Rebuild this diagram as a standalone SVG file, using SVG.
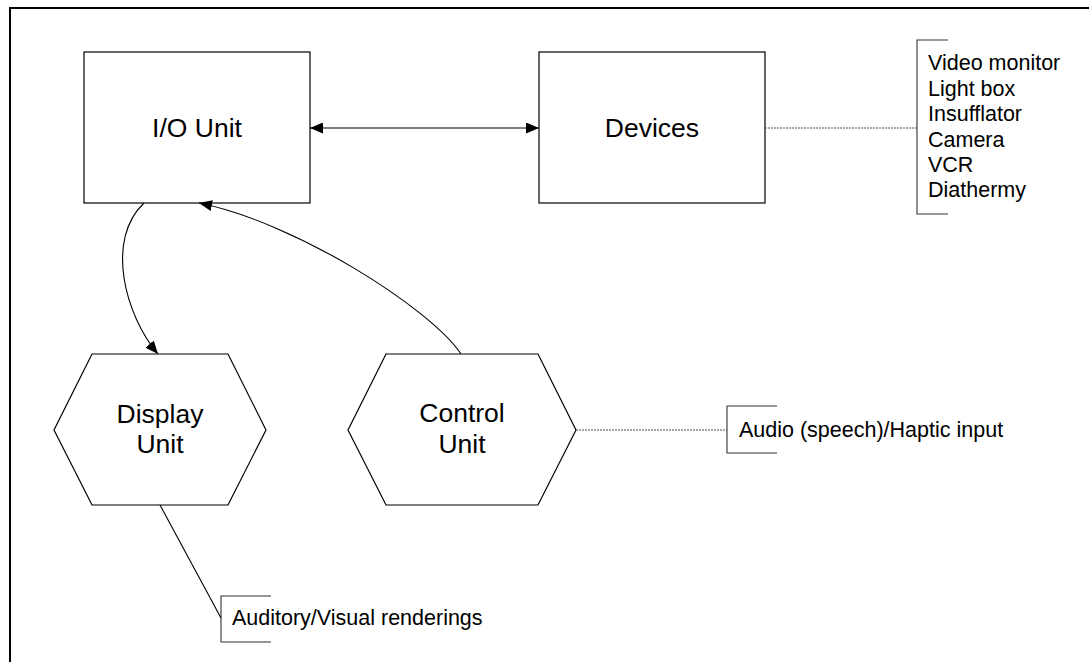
<svg xmlns="http://www.w3.org/2000/svg" width="1089" height="662" viewBox="0 0 1089 662">
<style>
.box{fill:#fff;stroke:#000;stroke-width:1.2}
.lbl{font-family:"Liberation Sans",Arial,sans-serif;font-size:26.5px;fill:#000;text-anchor:middle}
.sm{font-family:"Liberation Sans",Arial,sans-serif;font-size:21.5px;fill:#000}
.conn{fill:none;stroke:#000;stroke-width:1.1}
.dash{fill:none;stroke:#555;stroke-width:1;stroke-dasharray:2 1}
.brk{fill:none;stroke:#333;stroke-width:1.1}
</style>
<defs>
<marker id="ah" viewBox="0 0 13 11" refX="13" refY="5.5" markerWidth="13" markerHeight="11" markerUnits="userSpaceOnUse" orient="auto-start-reverse">
<path d="M0,0 L13,5.5 L0,11 Z" fill="#000"/>
</marker>
</defs>
<rect x="10" y="8" width="1100" height="700" fill="#fff" stroke="#000" stroke-width="2"/>
<g id="io-unit">
<rect class="box" x="84" y="52" width="226" height="151"/>
<text class="lbl" x="197" y="137">I/O Unit</text>
</g>
<g id="devices">
<rect class="box" x="539" y="52" width="226" height="151"/>
<text class="lbl" x="652" y="137">Devices</text>
</g>
<g id="display-unit">
<polygon class="box" points="92,354 228,354 266,430 228,505 92,505 54,430"/>
<text class="lbl" x="160" y="423">Display</text>
<text class="lbl" x="160" y="453">Unit</text>
</g>
<g id="control-unit">
<polygon class="box" points="386,354 538,354 576,430 538,505 386,505 348,430"/>
<text class="lbl" x="462" y="422">Control</text>
<text class="lbl" x="462" y="453">Unit</text>
</g>
<g id="device-list">
<path class="brk" d="M948,40 H917 V214 H948"/>
<text class="sm" x="928" y="70">Video monitor</text>
<text class="sm" x="928" y="95.5">Light box</text>
<text class="sm" x="928" y="121">Insufflator</text>
<text class="sm" x="928" y="146.5">Camera</text>
<text class="sm" x="928" y="172">VCR</text>
<text class="sm" x="928" y="197">Diathermy</text>
</g>
<g id="input-note">
<path class="brk" d="M777,406 H727 V453 H777"/>
<text class="sm" x="739" y="437">Audio (speech)/Haptic input</text>
</g>
<g id="render-note">
<path class="brk" d="M271,596 H221 V642 H271"/>
<text class="sm" x="232" y="625">Auditory/Visual renderings</text>
</g>
<g id="connectors">
<line class="conn" x1="310" y1="128" x2="539" y2="128" stroke="#333" marker-start="url(#ah)" marker-end="url(#ah)"/>
<path class="conn" d="M144,203 C105,240 125,315 158,354" marker-end="url(#ah)"/>
<path class="conn" d="M461,354 C430,308 295,222 199,203" marker-end="url(#ah)"/>
<line class="dash" x1="765" y1="128" x2="917" y2="128"/>
<line class="dash" x1="576" y1="430" x2="727" y2="430"/>
<line class="conn" x1="160" y1="505" x2="221" y2="618" stroke="#222"/>
</g>
</svg>
